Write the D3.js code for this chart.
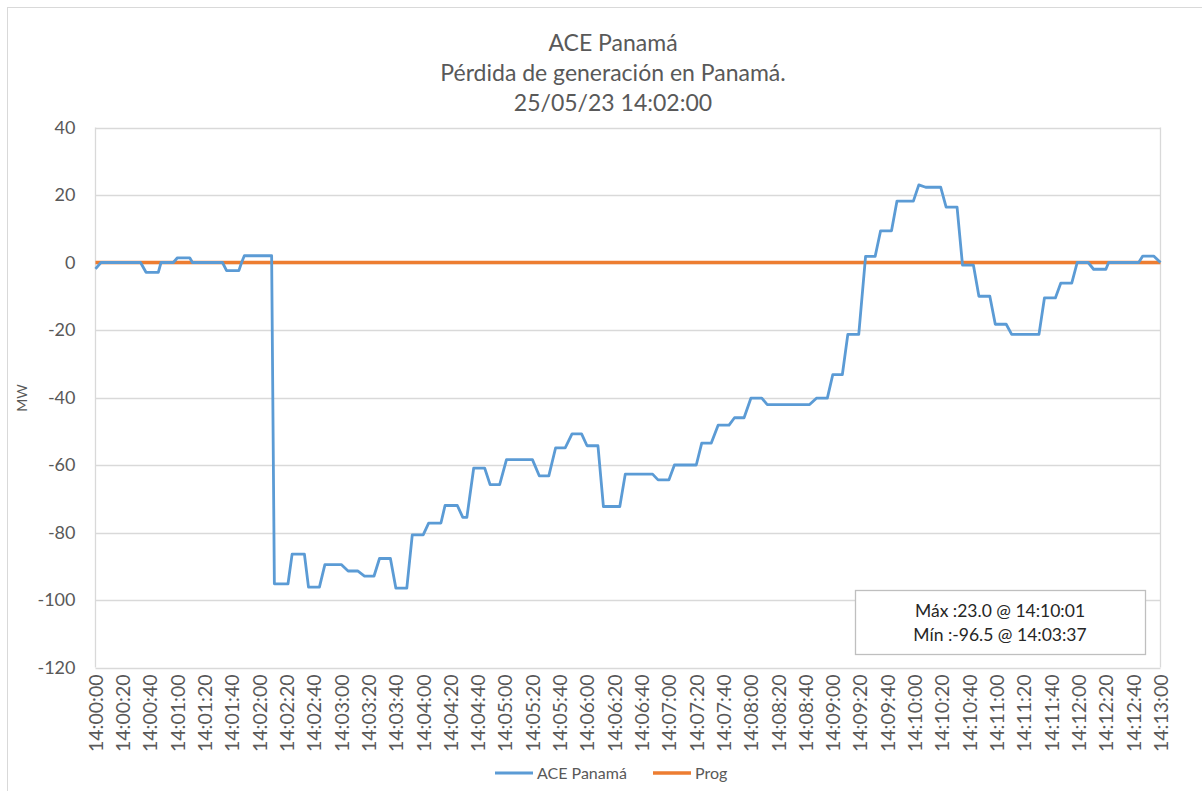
<!DOCTYPE html>
<html>
<head>
<meta charset="utf-8">
<script src="https://cdn.jsdelivr.net/npm/d3@7"></script>
<style>
  body { margin: 0; background: #fff; }
  svg { display: block; font-family: Lato, "Open Sans", sans-serif; }
</style>
</head>
<body>
<svg width="1202" height="791"></svg>
<script>

// titles
const titleLines = ['ACE Panamá', 'Pérdida de generación en Panamá.', '25/05/23 14:02:00']

// ACE Panamá (time, MW)
const aceTimes = [
  '14:00:00','14:00:04','14:00:33','14:00:37','14:00:46','14:00:48','14:00:57','14:01:00','14:01:09','14:01:11',
  '14:01:33','14:01:36','14:01:45','14:01:47','14:01:49','14:02:09','14:02:11','14:02:21','14:02:24','14:02:33',
  '14:02:36','14:02:44','14:02:48','14:03:00','14:03:05','14:03:12','14:03:17','14:03:24','14:03:28','14:03:36',
  '14:03:40','14:03:48','14:03:52','14:04:00','14:04:04','14:04:13','14:04:16','14:04:25','14:04:29','14:04:32',
  '14:04:37','14:04:45','14:04:49','14:04:56','14:05:01','14:05:20','14:05:25','14:05:32','14:05:37','14:05:44',
  '14:05:49','14:05:56','14:06:00','14:06:08','14:06:12','14:06:24','14:06:28','14:06:48','14:06:52','14:07:00',
  '14:07:04','14:07:20','14:07:24','14:07:31','14:07:36','14:07:44','14:07:48','14:07:55','14:08:00','14:08:08',
  '14:08:12','14:08:43','14:08:48','14:08:56','14:09:00','14:09:07','14:09:11','14:09:19','14:09:24','14:09:31',
  '14:09:35','14:09:43','14:09:47','14:09:59','14:10:03','14:10:08','14:10:19','14:10:23','14:10:31','14:10:35',
  '14:10:43','14:10:47','14:10:55','14:10:59','14:11:07','14:11:11','14:11:31','14:11:35','14:11:43','14:11:47',
  '14:11:55','14:11:59','14:12:07','14:12:11','14:12:20','14:12:22','14:12:44','14:12:47','14:12:55','14:13:00'
]
const aceValues = [
  -1.9, 0, 0, -2.9, -2.9, 0, 0, 1.4, 1.4, 0,
  0, -2.4, -2.4, 0, 2.0, 2.0, -95.2, -95.2, -86.4, -86.4,
  -96.2, -96.2, -89.5, -89.5, -91.4, -91.4, -92.9, -92.9, -87.7, -87.7,
  -96.5, -96.5, -80.7, -80.7, -77.2, -77.2, -72.0, -72.0, -75.5, -75.5,
  -60.9, -60.9, -65.8, -65.8, -58.4, -58.4, -63.2, -63.2, -54.9, -54.9,
  -50.8, -50.8, -54.3, -54.3, -72.3, -72.3, -62.7, -62.7, -64.4, -64.4,
  -60.0, -60.0, -53.5, -53.5, -48.2, -48.2, -46.0, -46.0, -40.2, -40.2,
  -42.1, -42.1, -40.2, -40.2, -33.2, -33.2, -21.3, -21.3, 1.8, 1.8,
  9.4, 9.4, 18.2, 18.2, 23.0, 22.3, 22.3, 16.4, 16.4, -0.8,
  -0.8, -10.0, -10.0, -18.3, -18.3, -21.3, -21.3, -10.5, -10.5, -6.1,
  -6.1, 0, 0, -2.0, -2.0, 0, 0, 1.9, 1.9, 0
]

// Prog (schedule)
const progTimes = ['14:00:00', '14:13:00']
const progValues = [0, 0]

const yTicks = [40, 20, 0, -20, -40, -60, -80, -100, -120]
const infoLines = ['Máx :23.0 @ 14:10:01', 'Mín :-96.5 @ 14:03:37']
const legendNames = ['ACE Panamá', 'Prog']
const colors = ['#5b9bd5', '#ed7d31']


const parse = d3.timeParse('%H:%M:%S')
const fmt = d3.timeFormat('%H:%M:%S')

const ace = aceTimes.map((t, i) => ({t: parse(t), v: aceValues[i]}))
const prog = progTimes.map((t, i) => ({t: parse(t), v: progValues[i]}))

const svg = d3.select('svg')

// outer chart frame
svg.append('rect')
    .attr('x', 7.5).attr('y', 7.5)
    .attr('width', 1210).attr('height', 800)
    .attr('fill', 'none')
    .attr('stroke', '#d9d9d9')

const plot = {left: 95.5, right: 1160.5, top: 127.5, bottom: 667.5}

const x = d3.scaleTime()
    .domain([parse('14:00:00'), parse('14:13:00')])
    .range([plot.left, plot.right])

const y = d3.scaleLinear()
    .domain([-120, 40])
    .range([plot.bottom, plot.top])

// title
svg.append('g')
    .selectAll('text')
    .data(titleLines)
    .join('text')
        .attr('x', 613)
        .attr('y', (d, i) => 51 + i * 30)
        .attr('text-anchor', 'middle')
        .attr('font-size', 23)
        .attr('fill', '#595959')
        .text(d => d)

// gridlines
svg.append('g')
    .selectAll('line')
    .data(yTicks)
    .join('line')
        .attr('x1', plot.left).attr('x2', plot.right)
        .attr('y1', d => Math.round(y(d)) + 0.5)
        .attr('y2', d => Math.round(y(d)) + 0.5)
        .attr('stroke', '#d9d9d9')
        .attr('stroke-width', 1.3)

// plot frame sides
svg.append('g')
    .selectAll('line')
    .data([plot.left, plot.right])
    .join('line')
        .attr('x1', d => d).attr('x2', d => d)
        .attr('y1', plot.top).attr('y2', plot.bottom)
        .attr('stroke', '#d9d9d9')
        .attr('stroke-width', 1.3)

// y axis labels (plain hyphen, as in the source)
const gy = svg.append('g')
    .attr('transform', `translate(${plot.left - 20},0)`)
    .call(d3.axisLeft(y).tickValues(yTicks).tickFormat(d => String(d)).tickSize(0).tickPadding(0))
gy.select('.domain').remove()
gy.selectAll('text')
    .attr('font-size', 18)
    .attr('fill', '#595959')
    .attr('font-family', 'Lato, sans-serif')

svg.append('text')
    .attr('transform', 'translate(27,398) rotate(-90)')
    .attr('text-anchor', 'middle')
    .attr('font-size', 14)
    .attr('fill', '#595959')
    .text('MW')

// x axis labels, rotated
const gx = svg.append('g')
    .attr('transform', `translate(0,${plot.bottom})`)
    .call(d3.axisBottom(x)
        .ticks(d3.timeSecond.every(20))
        .tickFormat(fmt)
        .tickSize(0))
gx.select('.domain').remove()
gx.selectAll('text')
    .attr('font-size', 19.5)
    .attr('fill', '#595959')
    .attr('font-family', 'Lato, sans-serif')
    .attr('text-anchor', 'end')
    .attr('dy', '0.35em')
    .attr('transform', 'translate(0,7) rotate(-90)')
    .attr('x', 0).attr('y', 0)

const line = d3.line()
    .x(d => x(d.t))
    .y(d => y(d.v))

svg.append('path')
    .datum(prog)
    .attr('d', line)
    .attr('fill', 'none')
    .attr('stroke', colors[1])
    .attr('stroke-width', 3.5)

svg.append('path')
    .datum(ace)
    .attr('d', line)
    .attr('fill', 'none')
    .attr('stroke', colors[0])
    .attr('stroke-width', 2.8)
    .attr('stroke-linejoin', 'round')

// max / min box
svg.append('rect')
    .attr('x', 855.5).attr('y', 590.5)
    .attr('width', 290).attr('height', 64)
    .attr('fill', '#fff')
    .attr('stroke', '#bfbfbf')
    .attr('stroke-width', 1.3)

svg.append('g')
    .selectAll('text')
    .data(infoLines)
    .join('text')
        .attr('x', 1000)
        .attr('y', (d, i) => 617 + i * 24)
        .attr('text-anchor', 'middle')
        .attr('font-size', 17.5)
        .attr('fill', '#262626')
        .text(d => d)

// legend
const legendX = [495, 653]
const lg = svg.append('g')
    .selectAll('g')
    .data(legendNames)
    .join('g')
        .attr('transform', (d, i) => `translate(${legendX[i]},773)`)
lg.append('line')
    .attr('x1', 0).attr('x2', 38)
    .attr('stroke', (d, i) => colors[i])
    .attr('stroke-width', (d, i) => i ? 3.5 : 2.8)
lg.append('text')
    .attr('x', 42)
    .attr('dy', '0.35em')
    .attr('font-size', 16)
    .attr('fill', '#595959')
    .text(d => d)

</script>
</body>
</html>
